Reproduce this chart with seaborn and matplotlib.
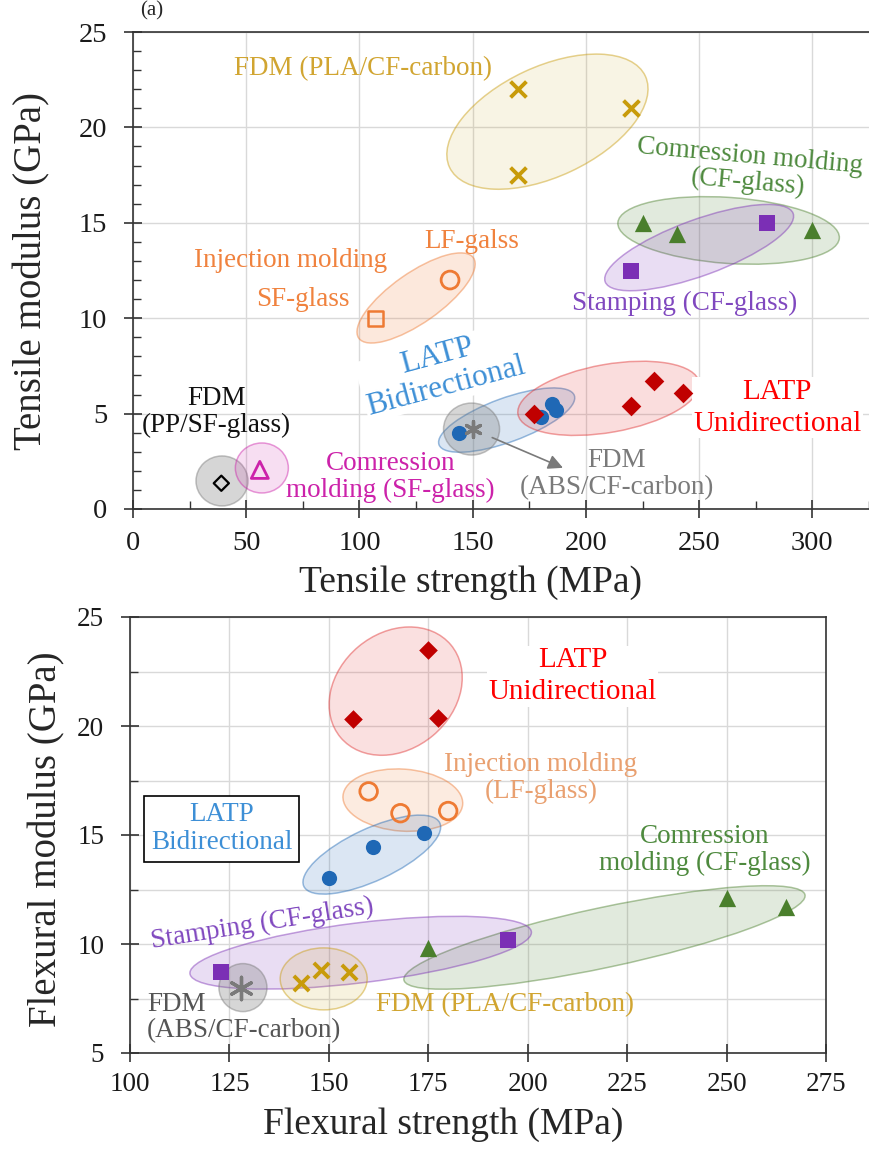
import matplotlib
matplotlib.use("Agg")
import matplotlib.pyplot as plt
from matplotlib.patches import Ellipse
from matplotlib.transforms import ScaledTranslation
from matplotlib.colors import to_rgba
from matplotlib.ticker import MultipleLocator
import pandas as pd
import seaborn as sns

# ---------------- (a) tensile: strength (MPa) / modulus (GPa) ----------------
ten_pla_str = [170, 170, 220]
ten_pla_mod = [22.0, 17.5, 21.0]
ten_cmcf_str = [225, 240, 300]
ten_cmcf_mod = [15.0, 14.4, 14.6]
ten_stamp_str = [220, 280]
ten_stamp_mod = [12.5, 15.0]
ten_lf_str = [140]
ten_lf_mod = [12.0]
ten_sf_str = [107]
ten_sf_mod = [10.0]
ten_bi_str = [144, 180, 185, 187]
ten_bi_mod = [4.0, 4.8, 5.5, 5.2]
ten_uni_str = [177, 220, 230, 243]
ten_uni_mod = [5.0, 5.4, 6.7, 6.1]
ten_abs_str = [150]
ten_abs_mod = [4.2]
ten_pp_str = [39]
ten_pp_mod = [1.35]
ten_cmsf_str = [56]
ten_cmsf_mod = [2.05]

# ---------------- (b) flexural: strength (MPa) / modulus (GPa) ----------------
flx_uni_str = [156, 175, 177.5]
flx_uni_mod = [20.3, 23.5, 20.35]
flx_lf_str = [160, 168, 180]
flx_lf_mod = [17.0, 16.0, 16.1]
flx_bi_str = [150, 161, 174]
flx_bi_mod = [13.05, 14.45, 15.1]
flx_cm_str = [175, 250, 265]
flx_cm_mod = [9.8, 12.1, 11.7]
flx_stamp_str = [123, 195]
flx_stamp_mod = [8.7, 10.2]
flx_abs_str = [128]
flx_abs_mod = [8.0]
flx_pla_str = [143, 148, 155]
flx_pla_mod = [8.2, 8.8, 8.7]

GOLD = "#c89b0a"
GOLD_T = "#d1a531"
GREEN = "#4a7f2c"
GREEN_T = "#4e8a3e"
PURPLE = "#7b2fb5"
PURPLE_T = "#8048bf"
ORANGE = "#ee7a33"
ORANGE_T = "#f0823e"
BLUE = "#1f68b5"
BLUE_T = "#3d8fd6"
RED = "#c00000"
GRAY = "#7a7a7a"
MAGENTA = "#cc22aa"


def frame(groups):
    rows = []
    for name, xs, ys in groups:
        for x, y in zip(xs, ys):
            rows.append({"group": name, "strength": x, "modulus": y})
    return pd.DataFrame(rows)


tens = frame([
    ("pla", ten_pla_str, ten_pla_mod), ("cmcf", ten_cmcf_str, ten_cmcf_mod),
    ("stamp", ten_stamp_str, ten_stamp_mod), ("lf", ten_lf_str, ten_lf_mod),
    ("sf", ten_sf_str, ten_sf_mod), ("bi", ten_bi_str, ten_bi_mod),
    ("uni", ten_uni_str, ten_uni_mod), ("abs", ten_abs_str, ten_abs_mod),
    ("pp", ten_pp_str, ten_pp_mod), ("cmsf", ten_cmsf_str, ten_cmsf_mod),
])
flex = frame([
    ("uni", flx_uni_str, flx_uni_mod), ("lf", flx_lf_str, flx_lf_mod),
    ("bi", flx_bi_str, flx_bi_mod), ("cmcf", flx_cm_str, flx_cm_mod),
    ("stamp", flx_stamp_str, flx_stamp_mod), ("abs", flx_abs_str, flx_abs_mod),
    ("pla", flx_pla_str, flx_pla_mod),
])

# marker styles
STYLE = {
    "pla": dict(marker="x", color=GOLD, s=130, linewidth=2.8),
    "cmcf": dict(marker="^", color=GREEN, s=155, linewidth=0),
    "stamp": dict(marker="s", color=PURPLE, s=140, linewidth=0),
    "lf": dict(marker="o", color=ORANGE, facecolor="none", edgecolor=ORANGE, s=165, linewidth=2),
    "sf": dict(marker="s", color=ORANGE, facecolor="none", edgecolor=ORANGE, s=115, linewidth=1.8),
    "bi": dict(marker="o", color=BLUE, s=120, linewidth=0),
    "uni": dict(marker="D", color=RED, s=100, linewidth=0),
    "abs": dict(marker=(6, 2, 0), color=GRAY, s=130, linewidth=2.4),
    "pp": dict(marker="D", color="black", facecolor="none", edgecolor="black", s=60, linewidth=1.6),
    "cmsf": dict(marker="^", color=MAGENTA, facecolor="none", edgecolor=MAGENTA, s=150, linewidth=2),
}
FLEX_SIZE = {"abs": 260, "pla": 120, "lf": 160, "uni": 90, "bi": 120}

# group envelopes: centre (data), width/height (px), angle, colour, fill alpha
TEN_ELL = [
    (183, 20.3, 216, 110, 25, GOLD, 0.11),
    (263, 14.6, 222, 66, -4, GREEN, 0.16),
    (250, 13.7, 200, 56, 20, PURPLE, 0.16),
    (125, 11.06, 140, 50, 35, ORANGE, 0.17),
    (165, 4.66, 144, 44, 20, BLUE, 0.16),
    (210, 5.8, 184, 68, 10, "#e03030", 0.16),
    (149.5, 4.19, 56, 52, 0, GRAY, 0.3),
    (39.3, 1.47, 52, 50, 0, GRAY, 0.3),
    (56.9, 2.15, 53, 50, 0, MAGENTA, 0.15),
]
FLX_ELL = [
    (166.8, 21.6, 144, 116, 40, "#e03030", 0.15),
    (168.6, 16.6, 120, 62, -4, ORANGE, 0.15),
    (160.8, 14.1, 150, 52, 25, BLUE, 0.16),
    (219.3, 10.3, 410, 60, 12, GREEN, 0.16),
    (158, 9.6, 344, 60, 7, PURPLE, 0.16),
    (128.4, 8.0, 48, 48, 0, GRAY, 0.3),
    (148.7, 8.4, 87, 62, 0, GOLD, 0.13),
]

sns.set_style("ticks")
plt.rcParams["font.family"] = ["Liberation Serif", "DejaVu Serif"]

DPI = 100
fig = plt.figure(figsize=(8.69, 11.49), dpi=DPI)
ax1 = fig.add_axes([133 / 869, 1 - 509 / 1149, 736 / 869, 477 / 1149])
ax2 = fig.add_axes([130 / 869, 1 - 1053 / 1149, 696 / 869, 436 / 1149])


def add_ellipse(ax, cx, cy, w, h, ang, color, alpha):
    tr = fig.dpi_scale_trans + ScaledTranslation(cx, cy, ax.transData)
    e = Ellipse((0, 0), w / DPI, h / DPI, angle=ang, transform=tr,
                facecolor=to_rgba(color, alpha), edgecolor=to_rgba(color, 0.45),
                linewidth=1.1, zorder=2)
    ax.add_patch(e)


def draw_points(ax, df, sizes=None):
    for g, sub in df.groupby("group", sort=False):
        kw = dict(STYLE[g])
        if sizes and g in sizes:
            kw["s"] = sizes[g]
        sns.scatterplot(data=sub, x="strength", y="modulus", ax=ax,
                        legend=False, zorder=4, **kw)


def style_axes(ax, maj_len):
    ax.set_axisbelow(True)
    ax.grid(True, which="major", color="#d9d9d9", linewidth=1)
    for sp in ax.spines.values():
        sp.set_color("#333333")
        sp.set_linewidth(1.2)
    ax.tick_params(which="major", direction="inout", length=maj_len, width=1.2,
                   color="#333333", labelcolor="#1a1a1a")
    ax.tick_params(which="minor", direction="in", length=5.5, width=1.0, color="#333333")


# ---------------- panel (a) ----------------
for c in TEN_ELL:
    add_ellipse(ax1, *c)
draw_points(ax1, tens)
ax1.set_xlim(0, 325)
ax1.set_ylim(0, 25)
ax1.xaxis.set_major_locator(MultipleLocator(50))
ax1.xaxis.set_minor_locator(MultipleLocator(25))
ax1.yaxis.set_major_locator(MultipleLocator(5))
ax1.yaxis.set_minor_locator(MultipleLocator(1))
style_axes(ax1, 13)
ax1.spines["right"].set_visible(False)
ax1.tick_params(axis="both", which="major", labelsize=20.5)
ax1.tick_params(axis="y", which="major", pad=12)
ax1.tick_params(axis="x", which="major", pad=9)
ax1.set_xlabel("Tensile strength (MPa)", fontsize=27)
ax1.set_ylabel("Tensile modulus (GPa)", fontsize=28)
ax1.xaxis.set_label_coords(0.458, -0.118)
ax1.yaxis.set_label_coords(-0.112, 0.5)

fs = 19.5
ax1.text(101.5, 23.1, "FDM (PLA/CF-carbon)", color=GOLD_T, fontsize=fs, ha="center", va="center")
ax1.text(272, 17.8, "Comression molding\n(CF-glass)", color=GREEN_T, fontsize=fs,
         ha="center", va="center", rotation=-5, rotation_mode="anchor", linespacing=1.05)
ax1.text(243.5, 10.8, "Stamping (CF-glass)", color=PURPLE_T, fontsize=fs, ha="center", va="center")
ax1.text(69.7, 13.05, "Injection molding", color=ORANGE_T, fontsize=fs, ha="center", va="center")
ax1.text(75, 11.0, "SF-glass", color=ORANGE_T, fontsize=fs, ha="center", va="center")
ax1.text(149.5, 14.0, "LF-galss", color=ORANGE_T, fontsize=fs, ha="center", va="center")
ax1.text(136.3, 7.2, "LATP\nBidirectional", color=BLUE_T, fontsize=22.5, ha="center", va="center",
         rotation=15, rotation_mode="anchor", linespacing=1.1, zorder=3,
         bbox=dict(facecolor="white", edgecolor="none", pad=1))
ax1.text(284.5, 5.3, "LATP\nUnidirectional", color="#ff0000", fontsize=21, ha="center", va="center",
         linespacing=1.3, zorder=3, bbox=dict(facecolor="white", edgecolor="none", pad=1))
ax1.text(37, 5.08, "FDM\n(PP/SF-glass)", color="#111111", fontsize=fs, ha="center", va="center",
         linespacing=1.1)
ax1.text(113.8, 1.68, "Comression\nmolding (SF-glass)", color=MAGENTA, fontsize=fs, ha="center",
         va="center", linespacing=1.1)
ax1.text(213.5, 1.83, "FDM\n(ABS/CF-carbon)", color=GRAY, fontsize=fs, ha="center", va="center",
         linespacing=1.1)
ax1.annotate("", xy=(191, 2.1), xytext=(157.5, 3.8),
             arrowprops=dict(arrowstyle="-|>", color=GRAY, lw=1.2, mutation_scale=22), zorder=5)
fig.text(152 / 869, 0.999, "(a)", fontsize=15, ha="center", va="top")

# ---------------- panel (b) ----------------
for c in FLX_ELL:
    add_ellipse(ax2, *c)
draw_points(ax2, flex, FLEX_SIZE)
ax2.set_xlim(100, 275)
ax2.set_ylim(5, 25)
ax2.xaxis.set_major_locator(MultipleLocator(25))
ax2.yaxis.set_major_locator(MultipleLocator(5))
ax2.yaxis.set_minor_locator(MultipleLocator(2.5))
style_axes(ax2, 13)
ax2.grid(True, which="minor", axis="y", color="#d9d9d9", linewidth=1)
ax2.tick_params(axis="both", which="major", labelsize=19.5)
ax2.tick_params(axis="y", which="major", pad=12)
ax2.tick_params(axis="x", which="major", pad=7)
ax2.set_xlabel("Flexural strength (MPa)", fontsize=27)
ax2.set_ylabel("Flexural modulus (GPa)", fontsize=28)
ax2.xaxis.set_label_coords(0.45, -0.125)
ax2.yaxis.set_label_coords(-0.093, 0.49)

ax2.text(211.3, 22.28, "LATP\nUnidirectional", color="#ff0000", fontsize=21, ha="center",
         va="center", linespacing=1.3, zorder=3,
         bbox=dict(facecolor="white", edgecolor="none", pad=1))
ax2.text(203.3, 17.6, "Injection molding\n(LF-glass)", color="#e9a070", fontsize=fs, ha="center",
         va="center", linespacing=1.1)
ax2.text(244.5, 14.3, "Comression\nmolding (CF-glass)", color=GREEN_T, fontsize=fs, ha="center",
         va="center", linespacing=1.1)
ax2.text(133.2, 10.9, "Stamping (CF-glass)", color=PURPLE_T, fontsize=fs, ha="center",
         va="center", rotation=9, rotation_mode="anchor")
ax2.text(104.3, 6.64, "FDM\n(ABS/CF-carbon)", color="#555555", fontsize=fs, ha="left",
         va="center", linespacing=1.05)
ax2.text(194.2, 7.2, "FDM (PLA/CF-carbon)", color=GOLD_T, fontsize=fs, ha="center", va="center")
ax2.text(123.1, 15.28, "LATP\nBidirectional", color=BLUE_T, fontsize=19.5, ha="center",
         va="center", linespacing=1.15, zorder=5,
         bbox=dict(facecolor="white", edgecolor="black", boxstyle="square", pad=0.25, linewidth=1.2))

fig.savefig("out.png", dpi=DPI)
